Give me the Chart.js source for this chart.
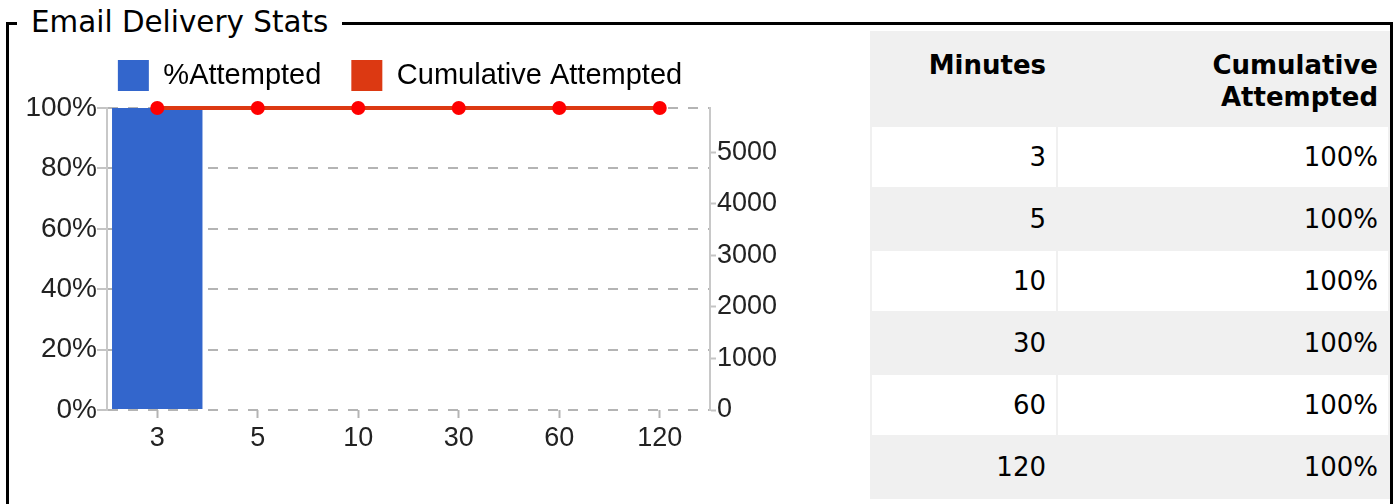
<!DOCTYPE html>
<html>
<head>
<meta charset="utf-8">
<title>Email Delivery Stats</title>
<script src="https://cdn.jsdelivr.net/npm/chart.js@4.4.1/dist/chart.umd.min.js"></script>
<style>
  html, body { margin: 0; padding: 0; background: #fff; }
  body { width: 1396px; height: 504px; overflow: hidden; position: relative; font-family: 'DejaVu Sans', sans-serif; color: #000; }
  .box { position: absolute; left: 6px; top: 22px; width: 1381px; height: 600px; border: 3px solid #000; border-bottom: none; }
  .box-title { position: absolute; left: 17px; top: 5px; padding: 0 14px; background: #fff; font-size: 29.4px; line-height: 34px; white-space: nowrap; }
  .chart-wrap { position: absolute; left: 0; top: 30px; width: 800px; height: 440px; }
  table.stats { position: absolute; left: 870px; top: 31px; width: 520px; border-spacing: 2px; background: #f0f0f0; font-size: 26px; }
  table.stats th { text-align: right; vertical-align: top; padding: 16px 10px 12px; line-height: 32px; font-weight: bold; }
  table.stats td { text-align: right; height: 60px; padding: 0 10px; line-height: 58px; }
  table.stats tr.odd td { background: #fff; }
  table.stats th:first-child, table.stats td:first-child { width: 164px; }
</style>
</head>
<body>
<div class="box"></div>
<div class="box-title">Email Delivery Stats</div>
<div class="chart-wrap"><canvas id="myChart"></canvas></div>
<table class="stats" id="statsTable"></table>

<script>
const minutes = ['3', '5', '10', '30', '60', '120']
const attemptedPct = [100, 0, 0, 0, 0, 0]
const cumulativeAttempted = [5860, 5860, 5860, 5860, 5860, 5860]
const cumulativePct = ['100%', '100%', '100%', '100%', '100%', '100%']
const pctTicks = [0, 20, 40, 60, 80, 100]
const countTicks = [0, 1000, 2000, 3000, 4000, 5000]
const countMax = 5860

// table on the right
const table = document.getElementById('statsTable')
table.innerHTML = '<tr><th>Minutes</th><th>Cumulative<br>Attempted</th></tr>' +
  minutes.map((m, i) =>
    `<tr class="${i % 2 === 0 ? 'odd' : 'even'}"><td>${m}</td><td>${cumulativePct[i]}</td></tr>`
  ).join('')

Chart.defaults.font.family = "'Liberation Sans', Arial, sans-serif"
Chart.defaults.font.size = 27
Chart.defaults.color = '#222'

// fixed legend height so the plot starts where it should
const legendHeight = {
  id: 'legendHeight',
  beforeInit(chart) {
    const fit = chart.legend.fit
    chart.legend.fit = function () {
      fit.bind(chart.legend)()
      this.height = 78
    }
  }
}

const ctx = document.getElementById('myChart').getContext('2d')
new Chart(ctx, {
  type: 'bar',
  data: {
    labels: minutes,
    datasets: [
      {
        type: 'bar',
        label: '%Attempted',
        data: attemptedPct,
        backgroundColor: '#3366cc',
        yAxisID: 'y',
        order: 1,
        barPercentage: 0.9,
        categoryPercentage: 1,
      },
      {
        type: 'line',
        label: 'Cumulative Attempted',
        data: cumulativeAttempted,
        borderColor: '#dc3912',
        backgroundColor: '#dc3912',
        borderWidth: 4,
        pointRadius: 7,
        pointBackgroundColor: '#ff0000',
        pointBorderWidth: 0,
        yAxisID: 'y1',
        order: 0,
        clip: false,
      },
    ]
  },
  options: {
    responsive: true,
    maintainAspectRatio: false,
    animation: false,
    layout: { padding: 0 },
    plugins: {
      legend: {
        position: 'top',
        labels: {
          boxWidth: 31,
          boxHeight: 31,
          padding: 30,
          color: '#222',
          font: { size: 29 },
          generateLabels: (chart) => chart.data.datasets.map((ds, i) => ({
            text: ds.label,
            fillStyle: ds.backgroundColor,
            strokeStyle: ds.backgroundColor,
            lineWidth: 0,
            hidden: false,
            datasetIndex: i,
          })),
        }
      },
      tooltip: { enabled: false },
    },
    scales: {
      x: {
        offset: true,
        grid: { drawOnChartArea: false, offset: false, tickLength: 8, tickColor: '#b4b4b4', tickWidth: 2 },
        border: { display: false },
        ticks: { padding: 4 },
        afterFit: (s) => { s.height = 60 },
      },
      y: {
        position: 'left',
        min: 0,
        max: 100,
        afterBuildTicks: (s) => { s.ticks = pctTicks.map(v => ({ value: v })) },
        ticks: { callback: (v) => v + '%', padding: 0, font: { size: 28 } },
        grid: { color: '#b4b4b4', lineWidth: 2, tickLength: 10, tickColor: '#c4c4c4', tickWidth: 2 },
        border: { color: '#c8c8c8', width: 2, dash: [10, 10] },
        afterFit: (s) => { s.width = 107 },
      },
      y1: {
        position: 'right',
        min: 0,
        max: countMax,
        afterBuildTicks: (s) => { s.ticks = countTicks.map(v => ({ value: v })) },
        ticks: { callback: (v) => String(v), padding: 1 },
        grid: { drawOnChartArea: false, tickLength: 6, tickColor: '#c4c4c4', tickWidth: 2 },
        border: { color: '#c8c8c8', width: 2 },
        afterFit: (s) => { s.width = 800 - 710 },
      },
    }
  },
  plugins: [legendHeight]
})
</script>
</body>
</html>
